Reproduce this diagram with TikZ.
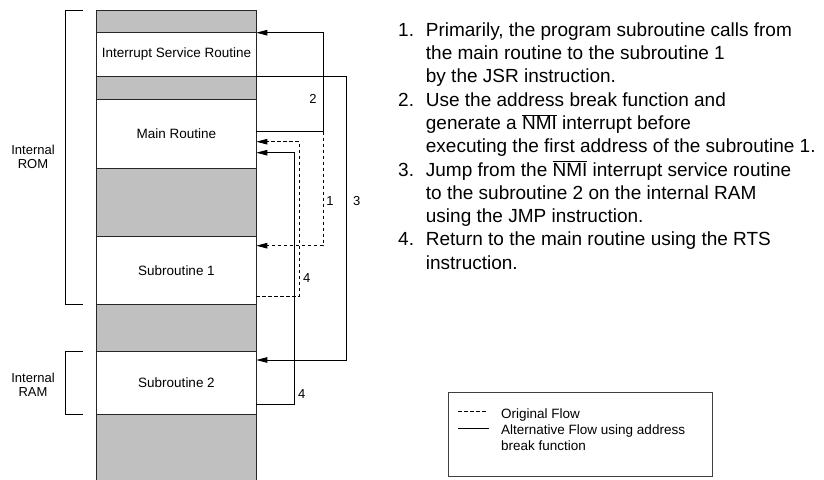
\documentclass[tikz,border=0pt]{standalone}
\usepackage{fontspec}
\setmainfont{Liberation Sans}
\usetikzlibrary{arrows.meta,calc,positioning}

\definecolor{memgray}{RGB}{192,192,192}

\tikzset{
    seg/.style={draw=black!85, line width=0.8pt, minimum width=159.6pt, inner sep=0pt, outer sep=0pt,
        font=\fontsize{13.5}{15}\selectfont},
    used/.style={seg, fill=white},
    free/.style={seg, fill=memgray},
    flow/.style={line width=0.8pt, -{Triangle[length=11pt,width=5.5pt]}},
    orig/.style={flow, dash pattern=on 3.5pt off 2.5pt},
    num/.style={font=\fontsize{13}{14}\selectfont, inner sep=0pt},
    side/.style={align=center, inner sep=0pt, font=\fontsize{13}{13.5}\selectfont}
}

\newcommand{\nmi}{$\overline{\mbox{NMI}}$}

\begin{document}
\begin{tikzpicture}[x=1pt,y=-1pt]
    \useasboundingbox (0,0) rectangle (824,479);

    % Memory map, top to bottom
    \node[free, minimum height=22pt, anchor=north west] (top) at (96.7,10.7) {};
    \node[used, minimum height=43.6pt, below=0pt of top] (isr) {Interrupt Service Routine};
    \node[free, minimum height=23pt, below=0pt of isr] (gapa) {};
    \node[used, minimum height=69pt, below=0pt of gapa] (main) {Main Routine};
    \node[free, minimum height=68.4pt, below=0pt of main] (gapb) {};
    \node[used, minimum height=67.6pt, below=0pt of gapb] (subA) {Subroutine 1};
    \node[free, minimum height=46.7pt, below=0pt of subA] (gapc) {};
    \node[used, minimum height=63.3pt, below=0pt of gapc] (subB) {Subroutine 2};
    \node[free, minimum height=66pt, below=0pt of subB] (bottom) {};

    % Brackets for ROM and RAM
    \draw[line width=0.8pt] ($(top.north west)+(-14,0)$) -- ++(-17.7,0) |- ($(subA.south west)+(-14,0)$);
    \draw[line width=0.8pt] ($(subB.north west)+(-14,0)$) -- ++(-17.7,0) |- ($(subB.south west)+(-14,0)$);
    \node[side] (rom) at (33,157) {Internal\\ROM};
    \node[side] (ram) at (33,385) {Internal\\RAM};

    % Flows
    \coordinate (mainout) at ($(main.north east)+(0,32.4)$);
    \draw[orig] ($(mainout)+(66.7,0)$) |- ($(subA.north east)+(0,9)$);
    \draw[orig] ($(subA.south east)+(0,-8.3)$) -- ++(43,0) |- ($(main.north east)+(0,42.4)$);
    \draw[flow] (mainout) -- ++(66.7,0) |- (isr.north east);
    \draw[flow] (isr.south east) -- ++(90.4,0) |- ($(subB.north east)+(0,9)$);
    \draw[flow] ($(subB.south east)+(0,-10.3)$) -- ++(37.7,0) |- ($(main.north east)+(0,53.4)$);

    % Step numbers
    \node[num] (lab2) at (313,98.5) {2};
    \node[num] (lab1) at (330,200.7) {1};
    \node[num] (lab3) at (356.7,200.7) {3};
    \node[num] (lab4a) at (306.7,278.3) {4};
    \node[num] (lab4b) at (301.7,394) {4};

    % Description
    \node[anchor=north west, inner sep=0pt, font=\fontsize{19}{23.3}\selectfont] (steps) at (398,19.7) {%
        \begin{tabular}{@{}p{27.7pt}@{}l@{}}
        1. & Primarily, the program subroutine calls from\\
           & the main routine to the subroutine 1\\
           & by the JSR instruction.\\
        2. & Use the address break function and\\
           & generate a \nmi{} interrupt before\\
           & executing the first address of the subroutine 1.\\
        3. & Jump from the \nmi{} interrupt service routine\\
           & to the subroutine 2 on the internal RAM\\
           & using the JMP instruction.\\
        4. & Return to the main routine using the RTS\\
           & instruction.
        \end{tabular}};

    % Legend
    \node[draw=black!75, line width=0.8pt, minimum width=264pt, minimum height=84.3pt, anchor=north west] (legend) at (447.7,391.7) {};
    \coordinate (dsA) at (458,411);
    \coordinate (dsB) at (486.7,411);
    \coordinate (slA) at (458,428);
    \coordinate (slB) at (489,428);
    \draw[line width=0.8pt, dash pattern=on 3.5pt off 2.5pt] (dsA) -- (dsB);
    \draw[line width=0.8pt] (slA) -- (slB);
    \node[anchor=west, align=left, inner sep=0pt, font=\fontsize{13.5}{16}\selectfont] (legtext) at (501,429.5) {Original Flow\\Alternative Flow using address\\break function};
\end{tikzpicture}
\end{document}
